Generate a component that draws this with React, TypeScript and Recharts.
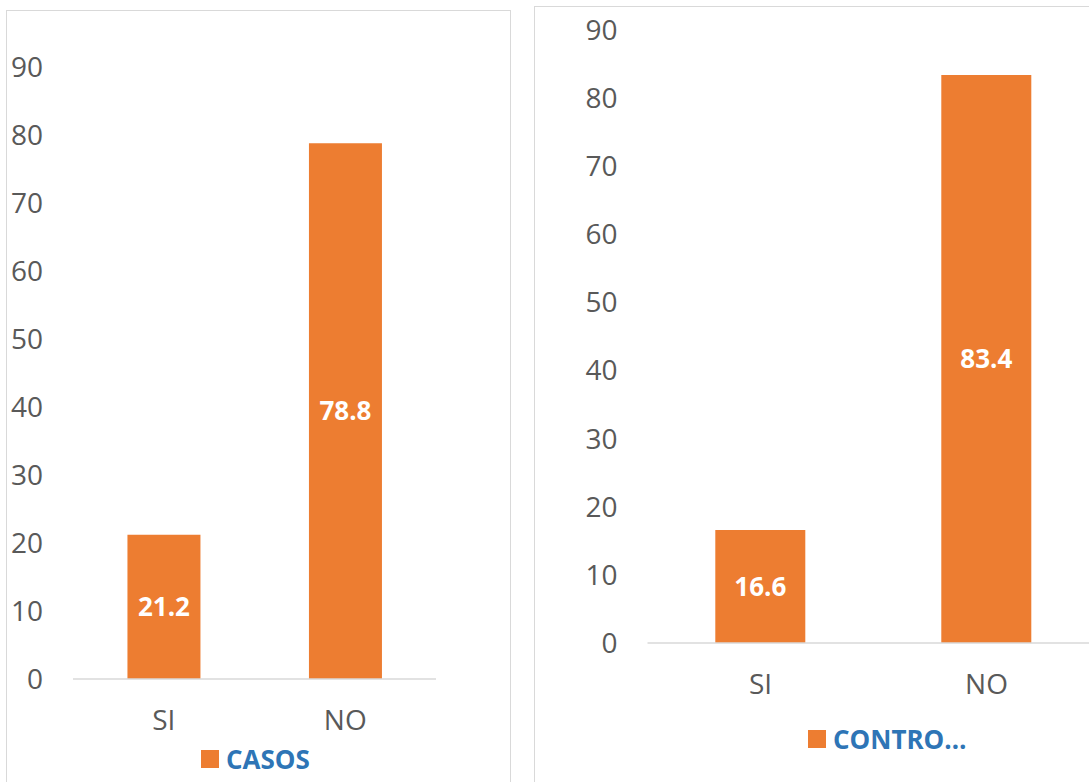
import { BarChart, Bar, XAxis, YAxis, LabelList } from "recharts";

// Porcentajes por grupo
const categories = ["SI", "NO"];
const casosValues = [21.2, 78.8];
const controlesValues = [16.6, 83.4];
const yTicks = [0, 10, 20, 30, 40, 50, 60, 70, 80, 90];

const ORANGE = "#ED7D31";
const BLUE = "#2E75B6";
const GREY_TEXT = "#595959";
const FONT = "'Open Sans', 'Noto Sans', sans-serif";
const X_AXIS_HEIGHT = 30;

const casosData = categories.map((name, i) => ({ name, value: casosValues[i] }));
const controlesData = categories.map((name, i) => ({
  name,
  value: controlesValues[i],
}));

function LegendBox({ label, left, top }: { label: string; left: number; top: number }) {
  return (
    <div
      style={{
        position: "absolute",
        left,
        top,
        display: "flex",
        alignItems: "center",
        fontFamily: FONT,
        fontWeight: 700,
        fontSize: 26,
        color: BLUE,
        whiteSpace: "nowrap",
      }}
    >
      <span
        style={{
          display: "inline-block",
          width: 18,
          height: 18,
          background: ORANGE,
          marginRight: 7,
        }}
      />
      {label}
    </div>
  );
}

function Panel({
  data,
  width,
  height,
  margin,
  yWidth,
}: {
  data: { name: string; value: number }[];
  width: number;
  height: number;
  margin: { top: number; right: number; bottom: number; left: number };
  yWidth: number;
}) {
  return (
    <BarChart
      width={width}
      height={height}
      data={data}
      margin={margin}
      barCategoryGap="30%"
    >
      <XAxis
        dataKey="name"
        height={X_AXIS_HEIGHT}
        axisLine={{ stroke: "#D9D9D9", strokeWidth: 1.5 }}
        tickLine={false}
        tickSize={0}
        tickMargin={31}
        tick={{ fill: GREY_TEXT, fontSize: 28, fontFamily: FONT }}
      />
      <YAxis
        width={yWidth}
        domain={[0, 90]}
        ticks={yTicks}
        axisLine={false}
        tickLine={false}
        tickSize={0}
        tickMargin={30}
        tick={{ fill: GREY_TEXT, fontSize: 28, fontFamily: FONT }}
      />
      <Bar dataKey="value" fill={ORANGE} isAnimationActive={false}>
        <LabelList
          dataKey="value"
          position="center"
          fill="#FFFFFF"
          fontSize={26}
          fontWeight={700}
          fontFamily={FONT}
        />
      </Bar>
    </BarChart>
  );
}

export default function App() {
  return (
    <div
      style={{
        position: "fixed",
        left: 0,
        top: 0,
        width: 1089,
        height: 782,
        overflow: "hidden",
        background: "#FFFFFF",
      }}
    >
      {/* CASOS */}
      <div
        style={{
          position: "absolute",
          left: 6,
          top: 10,
          width: 505,
          height: 800,
          border: "1.5px solid #D9D9D9",
          boxSizing: "border-box",
        }}
      />
      <div style={{ position: "absolute", left: 0, top: 0 }}>
        <Panel
          data={casosData}
          width={511}
          height={782}
          margin={{ top: 67, right: 75, bottom: 103 - X_AXIS_HEIGHT, left: 0 }}
          yWidth={73}
        />
      </div>
      <LegendBox label="CASOS" left={201} top={741} />

      {/* CONTROLES */}
      <div
        style={{
          position: "absolute",
          left: 534,
          top: 6,
          width: 600,
          height: 800,
          border: "1.5px solid #D9D9D9",
          boxSizing: "border-box",
        }}
      />
      <div style={{ position: "absolute", left: 534, top: 0 }}>
        <Panel
          data={controlesData}
          width={600}
          height={782}
          margin={{ top: 30, right: 34.5, bottom: 139 - X_AXIS_HEIGHT, left: 0 }}
          yWidth={113.5}
        />
      </div>
      <LegendBox label="CONTRO…" left={808} top={721} />
    </div>
  );
}
